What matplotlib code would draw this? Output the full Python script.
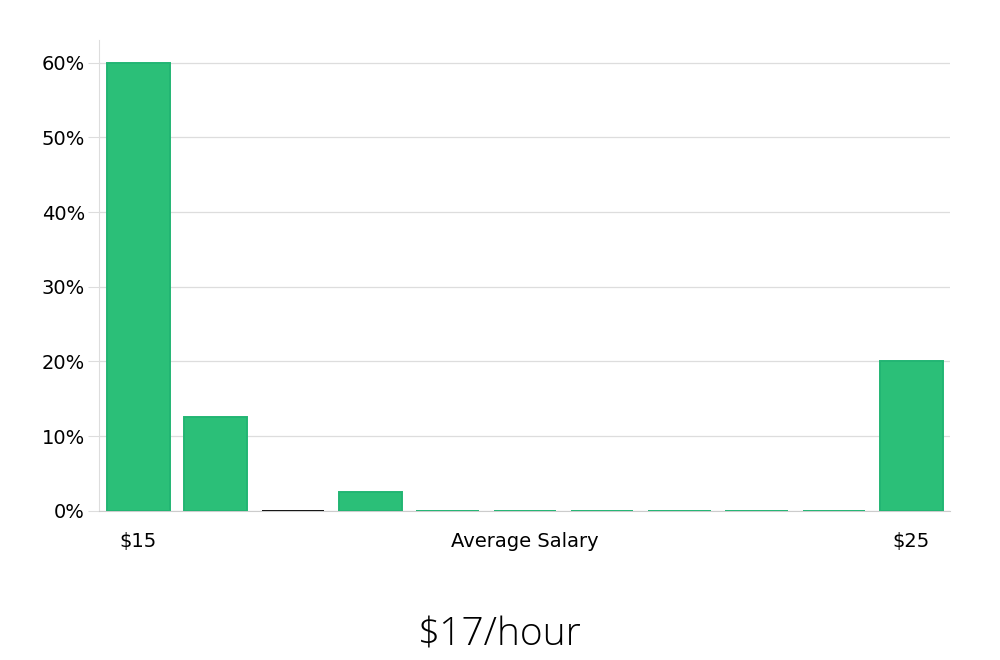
import matplotlib.pyplot as plt
from matplotlib.ticker import FuncFormatter

# Salary distribution ($15 to $25 per hour, 11 bins)
bins = list(range(11))
shares = [60, 12.5, 0, 2.5, 0, 0, 0, 0, 0, 0, 20]
edge_colors = ['#22b573', '#22b573', '#111111'] + ['#22b573'] * 8
tick_positions = [0, 5, 10]
tick_labels = ['$15', 'Average Salary', '$25']
title = '$17/hour'

fig = plt.figure(figsize=(10, 6.6), dpi=100)
ax = fig.add_axes([0.099, 0.226, 0.851, 0.713])

ax.bar(bins, shares, width=0.81, color='#2bbf78', edgecolor=edge_colors,
       linewidth=1.4, zorder=3)

ax.set_xlim(-0.51, 10.5)
ax.set_ylim(0, 63)
ax.set_yticks([0, 10, 20, 30, 40, 50, 60])
ax.yaxis.set_major_formatter(FuncFormatter(lambda v, p: f'{v:.0f}%'))
ax.set_xticks(tick_positions)
ax.set_xticklabels(tick_labels)

ax.tick_params(axis='y', labelsize=14, length=8, color='#dddddd', pad=2)
ax.tick_params(axis='x', labelsize=14, length=0, pad=15)
ax.grid(axis='y', color='#dddddd', linewidth=0.9, zorder=0)

for side in ['top', 'right']:
    ax.spines[side].set_visible(False)
ax.spines['left'].set_color('#dddddd')
ax.spines['bottom'].set_color('#cccccc')

fig.text(0.5, 0.038, title, ha='center', va='center', fontsize=28,
         family='Open Sans', weight='light')

fig.savefig('out.png')
